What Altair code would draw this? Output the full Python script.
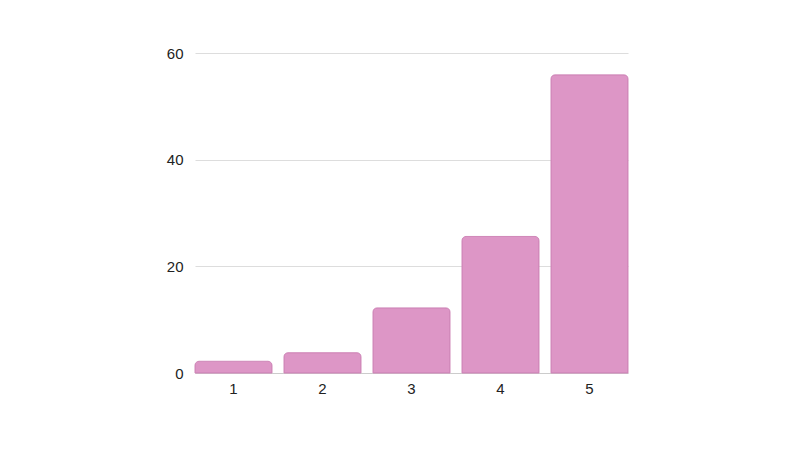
import altair as alt
import pandas as pd

categories = ["1", "2", "3", "4", "5"]
values = [2.2, 3.8, 12.2, 25.6, 55.9]

df = pd.DataFrame({"cat": categories, "val": values})

chart = alt.Chart(df).mark_bar(
    color="#dd96c6", stroke="#cf86b8", strokeWidth=1,
    cornerRadiusTopLeft=4, cornerRadiusTopRight=4
).encode(
    x=alt.X("cat:N", title=None, sort=categories,
            scale=alt.Scale(paddingInner=0.135, paddingOuter=0),
            axis=alt.Axis(labelAngle=0, ticks=False, domain=True, domainColor="#cccccc",
                          labelFont="Liberation Sans", labelFontSize=15, labelColor="#222222",
                          labelPadding=8, grid=False)),
    y=alt.Y("val:Q", title=None, scale=alt.Scale(domain=[0, 60], nice=False),
            axis=alt.Axis(values=[0, 20, 40, 60], ticks=False, domain=False,
                          gridColor="#dddddd", labelFont="Liberation Sans", labelFontSize=15,
                          labelColor="#222222", labelPadding=12)),
).properties(
    width=433, height=320,
    background="white",
    autosize=alt.AutoSizeParams(type="none"),
    padding={"left": 187, "top": 45, "right": 150, "bottom": 60},
).configure_view(stroke=None, strokeWidth=0)

chart.save("out.html", embed_options={"renderer": "svg", "actions": False})
